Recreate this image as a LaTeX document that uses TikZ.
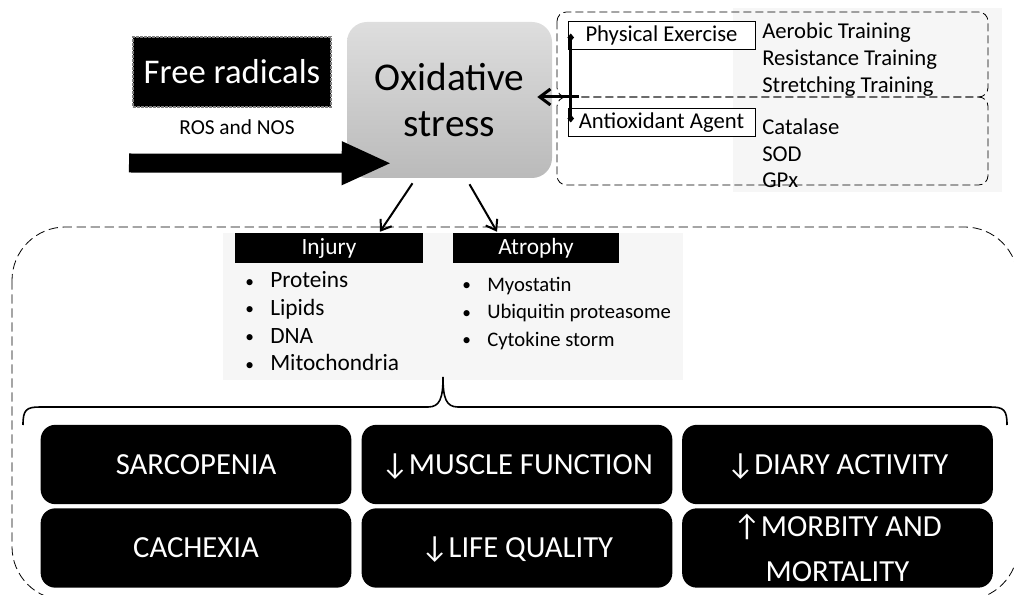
\documentclass[tikz,border=0pt]{standalone}
\usepackage{fontspec}
\setmainfont{Carlito}
\usetikzlibrary{arrows.meta,positioning,calc}
\newcommand{\bitem}{\makebox[18.75pt][l]{\raisebox{0.6pt}{\fontsize{13}{13}\selectfont\textbullet}}}

\begin{document}
\begin{tikzpicture}[
  x=0.75pt,y=-0.75pt,
  bblack/.style={fill=black,rounded corners=11pt,minimum width=233pt,minimum height=59.5pt,
                 font=\fontsize{23}{34}\selectfont,text=white,align=center},
  bline/.style={bblack,text height=14.8pt,text depth=0pt},
  bhead/.style={fill=black,minimum height=22.5pt,inner sep=0pt,
                font=\fontsize{17.5}{18}\selectfont,text=white},
  bwhite/.style={draw,fill=white,minimum width=140.25pt,minimum height=21pt,inner sep=0pt,
                 font=\fontsize{17}{18}\selectfont},
  blist/.style={anchor=west,align=left,inner sep=0pt},
  dbox/.style={draw,dash pattern=on 6pt off 3pt,rounded corners=7pt,line width=0.6pt},
  arr/.style={-{Straight Barb[length=7pt,width=10pt]},line width=1.5pt}]
\useasboundingbox (0,0) rectangle (1014,595);
% light panels
\fill[gray!7] (223,233) rectangle (683,380);
\fill[gray!7] (733,8) rectangle (1002,192);
% dashed frames
\draw[dbox] (557,12) rectangle (988,97);
\draw[dbox] (557,97) rectangle (988,185);
\draw[dash pattern=on 7pt off 3.5pt,rounded corners=40pt,line width=0.6pt] (12,227) rectangle (1018,600);

% source and stress
\node[fill=black,draw=gray,line width=2pt,densely dotted,minimum width=148.5pt,minimum height=52.5pt,
      text=white,font=\fontsize{26}{30}\selectfont] (frad) at (232,72) {Free radicals};
\node[font=\fontsize{16}{18}\selectfont] (ros) at (237,127) {ROS and NOS};
\node[rounded corners=15pt,top color=black!13,bottom color=black!27,minimum width=153.75pt,
      minimum height=117pt,align=center,font=\fontsize{29.5}{35}\selectfont] (ox) at (449.5,100) {Oxidative\\stress};
\coordinate (frtail) at (129,163);
\draw[line width=14.25pt,-{Triangle[length=37.5pt,width=30pt]}] (frtail) -- ($(ox.south west)+(45,-15)$);

% counteracting factors
\node[bwhite] (pe) at (661.5,35.5) {Physical Exercise};
\node[bwhite] (aa) at (661.5,122.5) {Antioxidant Agent};
\node[blist,font=\fontsize{17}{20.25}\selectfont] (trn) at (762,60) {Aerobic Training\\Resistance Training\\Stretching Training};
\node[blist,font=\fontsize{17}{20}\selectfont] (enz) at (762,153.5) {Catalase\\SOD\\GPx};
\coordinate (bartop) at ($(pe.west)+(3,-2)$);
\coordinate (barbot) at ($(aa.west)+(3,0)$);
\coordinate (junc) at (579,97);
\draw[line width=2.25pt,{Diamond[length=6pt,width=5pt]}-{Diamond[length=6pt,width=5pt]}] (bartop) -- (barbot);
\draw[-{Straight Barb[length=8pt,width=12pt]},line width=2.25pt] (junc) -- ($(ox.east)+(-15,-3)$);

% injury and atrophy
\node[bhead,minimum width=141pt] (inj) at (329,248) {Injury};
\node[bhead,minimum width=124.5pt] (atr) at (536,248) {Atrophy};
\draw[arr] ($(ox.south)+(-37,5)$) -- ($(inj.north)+(51,-1)$);
\draw[arr] ($(ox.south)+(20,6)$) -- ($(atr.north)+(-39,-1)$);
\node[blist,font=\fontsize{17.5}{20.75}\selectfont] (injl) at (245,321.5)
  {\bitem Proteins\\\bitem Lipids\\\bitem DNA\\\bitem Mitochondria};
\node[blist,font=\fontsize{15.5}{20.6}\selectfont] (atrl) at (462,313.5)
  {\bitem Myostatin\\\bitem Ubiquitin proteasome\\\bitem Cytokine storm};

% brace
\draw[line width=1.2pt] (23,425) .. controls (23,410) and (26,407) .. (40,407) -- (428,407)
  .. controls (440,407) and (443,398) .. (443,377) .. controls (443,398) and (446,407) .. (458,407)
  -- (990,407) .. controls (1004,407) and (1007,410) .. (1007,425);

% outcomes
\node[bline] (sarc) at (196,464.5) {SARCOPENIA};
\node[bline] (musc) at (517,464.5) {↓MUSCLE FUNCTION};
\node[bline] (diar) at (837.5,464.5) {↓DIARY ACTIVITY};
\node[bline] (cach) at (196,548) {CACHEXIA};
\node[bline] (life) at (517,548) {↓LIFE QUALITY};
\node[bblack] (morb) at (837.5,548) {↑MORBITY AND\\MORTALITY};
\end{tikzpicture}
\end{document}
